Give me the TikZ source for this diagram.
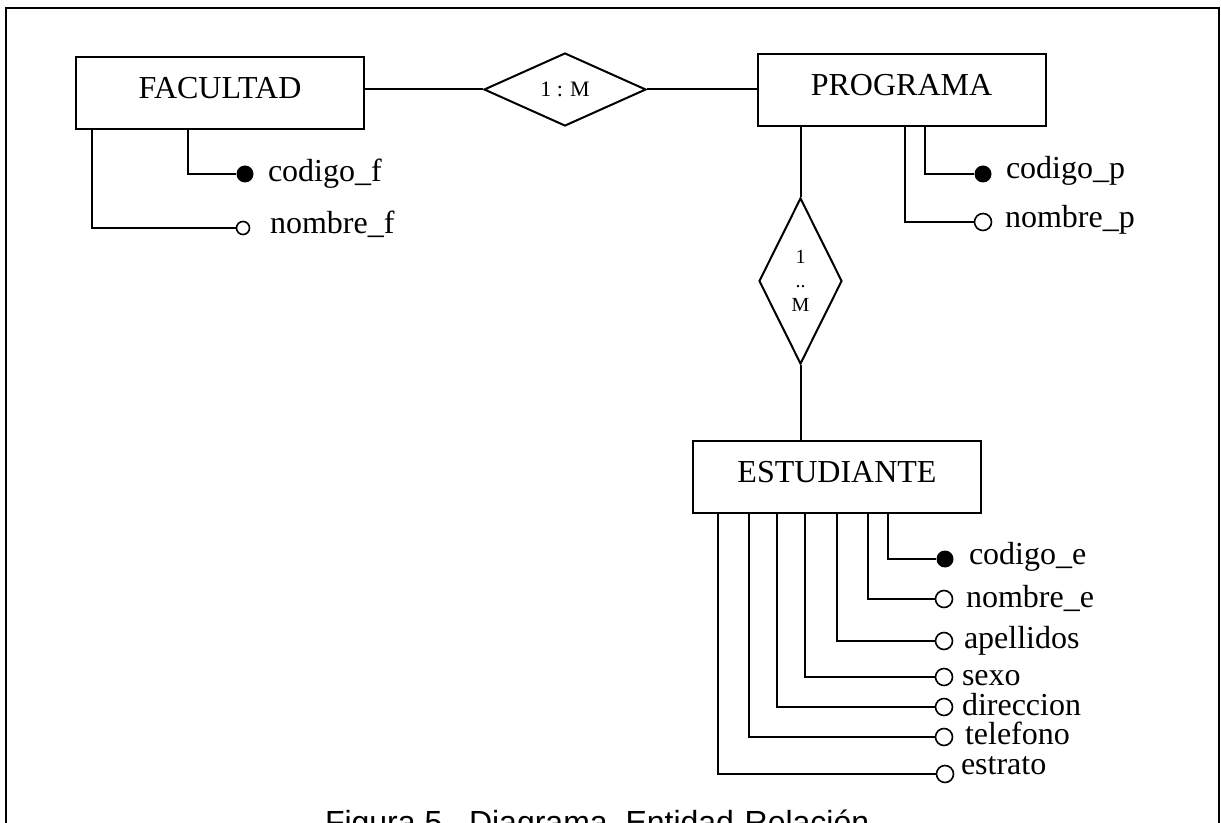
\documentclass[tikz,border=0pt]{standalone}
\usepackage{fontspec}
\setmainfont{Liberation Serif}
\newfontfamily\capfont{Liberation Sans}
\usetikzlibrary{shapes.geometric}

\tikzset{
  entity/.style={draw, minimum width=144pt, minimum height=36pt, inner sep=0pt,
    text depth=5pt, font=\fontsize{16}{19}\selectfont},
  rel/.style={draw, diamond, inner sep=0pt, align=center,
    font=\fontsize{10}{12}\selectfont},
  key/.style={circle, fill=black, inner sep=0pt, minimum size=8.5pt},
  attr/.style={circle, draw, line width=0.8pt, fill=white, inner sep=0pt, minimum size=8.5pt},
  lbl/.style={anchor=base west, inner sep=0pt, font=\fontsize{16}{19}\selectfont}
}

\begin{document}
\begin{tikzpicture}[x=0.5pt, y=-0.5pt, line width=1pt]
      \useasboundingbox (0,0) rectangle (1221,823);
      \draw[line width=1.2pt] (6,840) |- (1219,8) -- (1219,840);
      \path
        (220,93) node[entity] (fac){FACULTAD}
        (901.5,90) node[entity] (prog){PROGRAMA}
        (837,477) node[entity] (est){ESTUDIANTE}
        (565,89.5) node[rel, minimum width=81pt, minimum height=36.5pt,
          font=\fontsize{11}{12}\selectfont] (r1){1 : M}
        (800.5,281) node[rel, minimum width=41.5pt, minimum height=83pt] (r2){1\\..\\M};
      \path
        (245,174) node[key] (k1){}
        (243,228) node[attr, minimum size=6.5pt] (a1){}
        (983,174) node[key] (k2){}
        (983,222) node[attr] (a2){}
        (945,559) node[key] (k3){}
        (944,599) node[attr] (a3){}
        (944,641) node[attr] (a4){}
        (944,677) node[attr] (a5){}
        (944,707) node[attr] (a6){}
        (944,737) node[attr] (a7){}
        (945,774) node[attr] (a8){};
      \path
        (267,182) node[lbl] (t1){codigo\_f}
        (269,234) node[lbl] (t2){nombre\_f}
        (1005,179) node[lbl] (t3){codigo\_p}
        (1004,228) node[lbl] (t4){nombre\_p}
        (968,564) node[lbl] (t5){codigo\_e}
        (965,607) node[lbl] (t6){nombre\_e}
        (963,648) node[lbl] (t7){apellidos}
        (961,685) node[lbl] (t8){sexo}
        (961,715) node[lbl] (t9){direccion}
        (964,744) node[lbl] (t10){telefono}
        (960,774) node[lbl] (t11){estrato};
      \node[anchor=base west, inner sep=0pt, font=\capfont\fontsize{16}{19}\selectfont]
        (fig) at (324,833) {Figura 5.\ \ Diagrama\ \ Entidad-Relación};
      \begin{scope}
        \draw (r1.west) -- (r1.west -| fac.east);
        \draw (r1.east) -- (r1.east -| prog.west);
        \draw (r2.north) -- (r2.north |- prog.south);
        \draw (r2.south) -- (r2.south |- est.north);
        \draw (fac.south west) ++(113,0) |- (k1.west);
        \draw (fac.south west) ++(17,0) |- (a1.west);
        \draw (prog.south west) ++(168,0) |- (k2.west);
        \draw (prog.south west) ++(148,0) |- (a2.west);
        \draw (est.south west) ++(196,0) |- (k3.west);
        \draw (est.south west) ++(176,0) |- (a3.west);
        \draw (est.south west) ++(145,0) |- (a4.west);
        \draw (est.south west) ++(113,0) |- (a5.west);
        \draw (est.south west) ++(85,0) |- (a6.west);
        \draw (est.south west) ++(57,0) |- (a7.west);
        \draw (est.south west) ++(26,0) |- (a8.west);
      \end{scope}
    \end{tikzpicture}
\end{document}
